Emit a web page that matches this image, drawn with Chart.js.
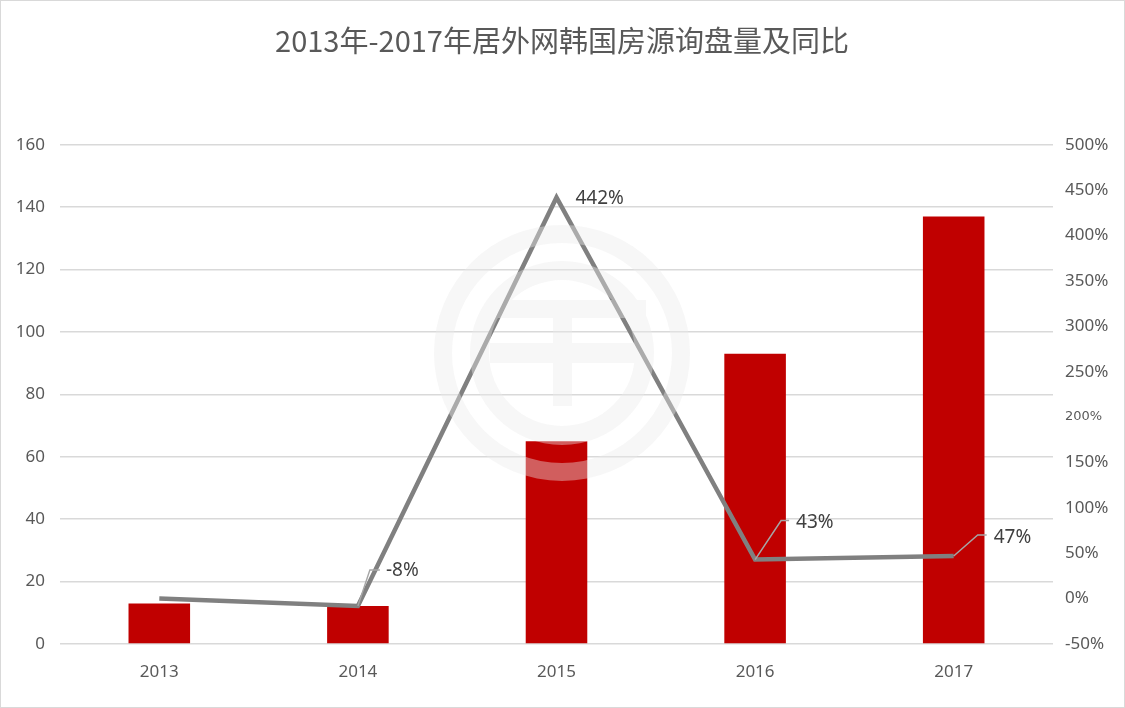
<!DOCTYPE html>
<html>
<head>
<meta charset="utf-8">
<script src="https://cdn.jsdelivr.net/npm/chart.js@4.4.0/dist/chart.umd.min.js"></script>
<style>
  html, body { margin: 0; padding: 0; background: #fff; }
  #wrap { width: 1125px; height: 708px; box-sizing: border-box; border: 1.5px solid #d9d9d9; }
</style>
</head>
<body>
<div id="wrap"><canvas id="myChart" width="1122" height="705"></canvas></div>
<script>
// data
const years = ["2013", "2014", "2015", "2016", "2017"];
const inquiries = [13, 12.2, 65, 93, 137];
const yoyPct = [0, -8, 442, 43, 47];
const yoyLabels = ["", "-8%", "442%", "43%", "47%"];

// label placement relative to its point: text offset, leader elbow, leader end
const labelOffsets = [
    null,
    { tx: 28, ty: -35, lines: [[12, -36], [22, -36]] },
    { tx: 19, ty: 1, lines: null },
    { tx: 41, ty: -37, lines: [[26, -39], [34, -39]] },
    { tx: 40, ty: -18, lines: [[24, -21], [33, -21]] }
];

const tickFont = { family: "'Noto Sans', 'Noto Sans CJK SC', sans-serif", size: 17 };

// draws the percentage labels with their little leader lines
const pointLabels = {
    id: "pointLabels",
    afterDatasetsDraw(chart) {
        let ctx = chart.ctx;
        let meta = chart.getDatasetMeta(1);
        ctx.save();
        meta.data.forEach(function (pt, i) {
            let off = labelOffsets[i];
            if (!off) return;
            if (off.lines) {
                ctx.beginPath();
                ctx.strokeStyle = "#a6a6a6";
                ctx.lineWidth = 1.5;
                ctx.moveTo(pt.x, pt.y);
                for (let p of off.lines) ctx.lineTo(pt.x + p[0], pt.y + p[1]);
                ctx.stroke();
            }
            ctx.fillStyle = "#404040";
            ctx.font = "19px 'Noto Sans', sans-serif";
            ctx.textAlign = "left";
            ctx.textBaseline = "middle";
            ctx.fillText(yoyLabels[i], pt.x + off.tx, pt.y + off.ty);
        });
        ctx.restore();
    }
};

// faint round logo that sits over the middle of the plot
const watermark = {
    id: "watermark",
    afterDraw(chart) {
        let ctx = chart.ctx;
        let cx = 561, cy = 352;
        let off = document.createElement("canvas");
        off.width = chart.width;
        off.height = chart.height;
        let o = off.getContext("2d");
        o.fillStyle = "rgb(235,235,235)";
        o.beginPath();
        o.arc(cx, cy, 128, 0, Math.PI * 2);
        o.arc(cx, cy, 110, 0, Math.PI * 2, true);
        o.fill();
        o.beginPath();
        o.arc(cx, cy, 92, 0, Math.PI * 2);
        o.arc(cx, cy, 73, 0, Math.PI * 2, true);
        o.fill();
        o.fillRect(cx - 72, cy - 53, 156, 18);
        o.fillRect(cx - 72, cy - 10, 158, 20);
        o.fillRect(cx - 9, cy - 35, 19, 88);
        ctx.save();
        ctx.globalAlpha = 0.4;
        ctx.drawImage(off, 0, 0, chart.width, chart.height);
        ctx.restore();
    }
};

var ctx1 = document.getElementById("myChart").getContext("2d");
var myChart = new Chart(ctx1, {
    type: "bar",
    data: {
        labels: years,
        datasets: [
            {
                label: "询盘量",
                data: inquiries,
                backgroundColor: "#c00000",
                yAxisID: "y",
                order: 2,
                categoryPercentage: 1.0,
                barPercentage: 0.31
            },
            {
                type: "line",
                label: "同比",
                data: yoyPct,
                borderColor: "#808080",
                borderWidth: 4.5,
                pointRadius: 0,
                tension: 0,
                yAxisID: "y1",
                order: 1
            }
        ]
    },
    options: {
        responsive: false,
        animation: false,
        devicePixelRatio: 1,
        layout: { padding: 0 },
        plugins: {
            legend: { display: false },
            tooltip: { enabled: false },
            title: {
                display: true,
                text: "2013年-2017年居外网韩国房源询盘量及同比",
                color: "#595959",
                font: { family: "'Noto Sans CJK SC', sans-serif", size: 29, weight: "normal" },
                padding: { top: 23, bottom: 86 }
            }
        },
        scales: {
            x: {
                grid: { display: false },
                border: { display: false },
                ticks: { color: "#595959", font: tickFont, padding: 10 },
                afterFit(scale) { scale.height = 62; }
            },
            y: {
                position: "left",
                min: 0,
                max: 160,
                ticks: { stepSize: 20, color: "#595959", font: tickFont, padding: 15 },
                grid: { color: "#d9d9d9", lineWidth: 1.5, drawTicks: false },
                border: { display: false },
                afterFit(scale) { scale.width = 59; }
            },
            y1: {
                position: "right",
                min: -50,
                max: 500,
                ticks: {
                    stepSize: 50,
                    color: "#595959",
                    padding: 12,
                    font: function (c) {
                        if (c.tick && c.tick.value === 200) return { family: "'DejaVu Sans', sans-serif", size: 13 };
                        return tickFont;
                    },
                    callback: function (v) { return v + "%"; }
                },
                grid: { display: false, drawTicks: false },
                border: { display: false },
                afterFit(scale) { scale.width = 70; }
            }
        }
    },
    plugins: [pointLabels, watermark]
});
</script>
</body>
</html>
